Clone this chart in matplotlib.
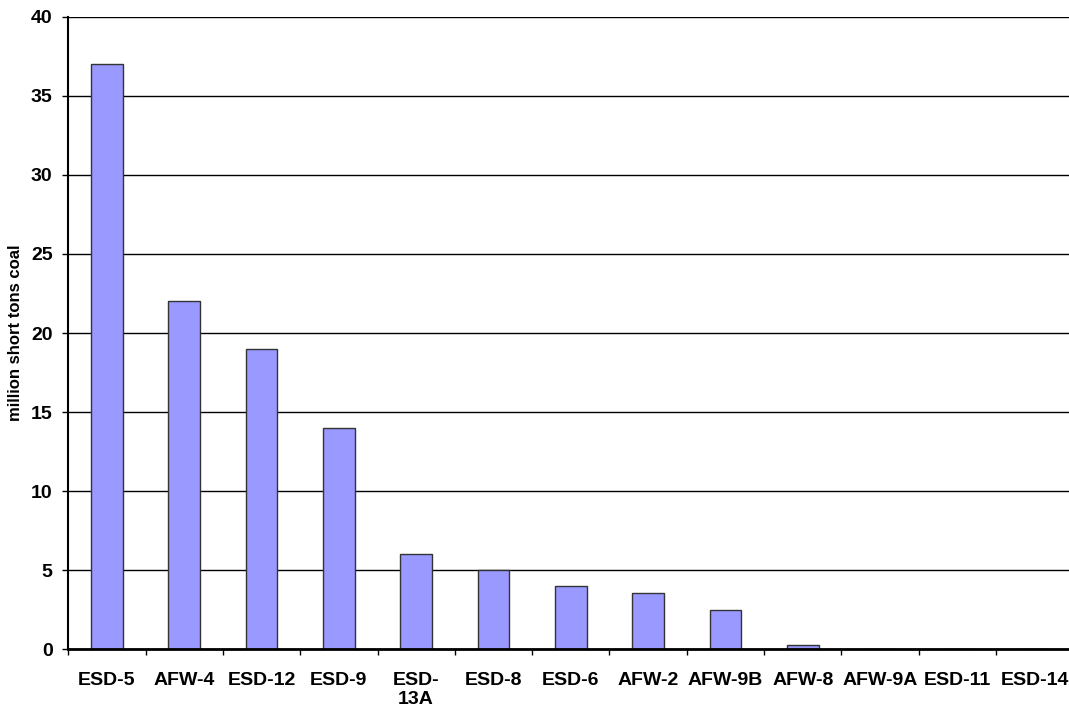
import numpy as np
import matplotlib
matplotlib.use("Agg")
import matplotlib.pyplot as plt
from matplotlib.ticker import MultipleLocator, FixedLocator

plt.rcParams['font.family'] = ['Liberation Sans', 'DejaVu Sans']
plt.rcParams['font.weight'] = 'bold'

# coal resources by area, million short tons
areas = ["ESD-5", "AFW-4", "ESD-12", "ESD-9", "ESD-\n13A", "ESD-8", "ESD-6",
         "AFW-2", "AFW-9B", "AFW-8", "AFW-9A", "ESD-11", "ESD-14"]
coal = [37, 22, 19, 14, 6, 5, 4, 3.55, 2.5, 0.25, 0.03, 0, 0]

fig = plt.figure(figsize=(10.69, 7.13), dpi=100)
ax = fig.add_axes([68.3 / 1069, 63.7 / 713, 1005 / 1069, 632.6 / 713])

x = np.arange(len(areas))
ax.bar(x, coal, width=0.41, color="#9999ff", edgecolor="#333333", linewidth=1.0, zorder=3)

ax.set_xlim(-0.5, len(areas) - 0.5)
ax.set_ylim(0, 40)
ax.yaxis.set_major_locator(MultipleLocator(5))
ax.grid(axis="y", color="black", linewidth=1.0, zorder=0)

ax.set_xticks(x)
ax.set_xticklabels(areas, fontsize=14, fontweight="bold", linespacing=1.15, va="top")
ax.tick_params(axis="x", which="major", length=0, pad=16.5)
ax.xaxis.set_minor_locator(FixedLocator(np.arange(len(areas) + 1) - 0.5))
ax.tick_params(axis="x", which="minor", length=4.3, width=1, direction="out")

ax.tick_params(axis="y", length=4.3, width=1, direction="out", pad=7, labelsize=14)
for lab in ax.get_yticklabels():
    lab.set_fontweight("bold")

ax.set_ylabel("million short tons coal", fontsize=12, fontweight="bold")
ax.yaxis.set_label_coords(-0.045, 0.5)

for side in ["top", "right"]:
    ax.spines[side].set_visible(False)
ax.spines["left"].set_linewidth(1.5)
ax.spines["bottom"].set_linewidth(2.0)
ax.spines["bottom"].set_zorder(4)

fig.savefig("out.png", dpi=100)
